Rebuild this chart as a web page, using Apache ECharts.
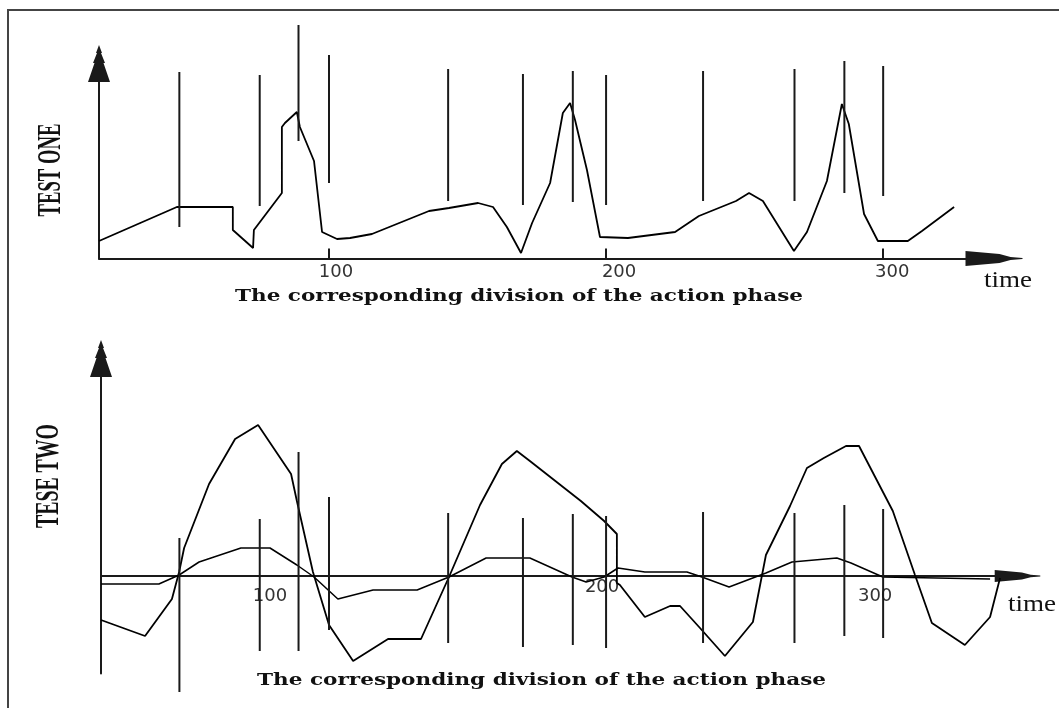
<!DOCTYPE html>
<html>
<head>
<meta charset="utf-8">
<script src="https://cdn.jsdelivr.net/npm/echarts@6/dist/echarts.min.js"></script>
<style>
html,body{margin:0;padding:0;background:#fff;}
#c{width:1059px;height:708px;}
</style>
</head>
<body>
<div id="c"></div>
<script>
// ---------- data (time units along x, arbitrary signal units along y) ----------
const tickValues = [100, 200, 300];
const tickLabels = ['100', '200', '300'];
const axisTitle = 'time';
const phaseTitle = 'The corresponding division of the action phase';
const panelOneName = 'TEST ONE';
const panelTwoName = 'TESE TWO';

// phase division boundaries (shared by both panels)
const phaseBoundaries = [46, 75, 89, 100, 143, 170, 188, 200, 235, 268, 286, 300];

// panel 1 : TEST ONE
const testOneTime = [17, 45.1, 65.3, 65.3, 72.6, 72.9, 83.0, 83.0, 84.1, 88.4, 89.5, 94.6, 97.5, 102.9, 107.6, 115.5, 136.1, 143.3, 153.8, 159.2, 164.2, 169.3, 173.3, 179.8, 184.4, 187.0, 188.8, 193.1, 197.8, 207.9, 224.9, 233.5, 246.9, 251.6, 256.6, 267.8, 272.5, 279.7, 285.1, 287.6, 293.1, 298.1, 308.9, 314.0, 325.6];
const testOneValue = [17.5, 51.5, 51.5, 28.5, 10.5, 28.5, 65.5, 131.5, 135.5, 146.5, 131.5, 97.5, 26.5, 19.5, 20.5, 24.5, 47.5, 50.5, 55.5, 51.5, 31.5, 5.5, 35.5, 75.5, 145.5, 155.5, 138.5, 88.5, 21.5, 20.5, 26.5, 42.5, 57.5, 65.5, 57.5, 7.5, 26.5, 77.5, 154.5, 134.5, 44.5, 17.5, 17.5, 27.5, 51.5];
const testOneBoundLow  = [31.5, 52.5, 117.5, 75.5, 57.5, 53.5, 56.5, 53.5, 57.5, 57.5, 65.5, 62.5];
const testOneBoundHigh = [186.5, 183.5, 233.5, 203.5, 189.5, 184.5, 187.5, 183.5, 187.5, 189.5, 197.5, 192.5];

// panel 2 : TESE TWO (large curve A, small curve B)
const testTwoATime = [17.7, 33.6, 43.3, 45.9, 47.7, 56.7, 66.1, 74.4, 86.3, 88.4, 94.2, 100.0, 108.7, 121.3, 133.2, 143.3, 154.5, 162.4, 167.8, 172.5, 190.9, 199.3, 203.9, 203.9, 205.0, 214.0, 223.1, 226.7, 233.9, 242.9, 253.0, 257.7, 266.4, 272.5, 278.6, 286.6, 291.3, 303.5, 311.5, 317.6, 329.5, 338.6, 342.2];
const testTwoAValue = [-44, -60, -23, 4, 28, 92, 137, 151, 102, 75, 4, -49, -85, -63, -63, -1, 71, 112, 125, 115, 75, 55, 42, -7, -9, -41, -30, -30, -52, -80, -46, 21, 70, 108, 118, 130, 130, 65, 1, -47, -69, -41, -2];
const testTwoBTime = [17.7, 38.6, 45.9, 53.1, 68.2, 78.7, 88.4, 94.6, 103.2, 115.9, 131.8, 143.3, 156.7, 172.5, 187.7, 192.8, 199.3, 204.3, 214.0, 229.2, 234.6, 244.4, 257.7, 267.1, 283.3, 288.4, 299.9, 338.6];
const testTwoBValue = [-8, -8, 1, 14, 28, 28, 11, -1, -23, -14, -14, -1, 18, 18, -1, -6, -1, 8, 4, 4, -1, -11, 3, 14, 18, 13, -1, -3];
const testTwoBoundLow  = [-116, -75, -75, -54, -67, -71, -69, -72, -67, -67, -60, -62];
const testTwoBoundHigh = [38, 57, 124, 79, 63, 58, 62, 60, 64, 63, 71, 67];

// ---------- helpers ----------
const zip = (xs, ys) => xs.map((x, i) => [x, ys[i]]);
const bounds = (lo, hi) => phaseBoundaries.map((t, i) => [t, lo[i], hi[i]]);

const ARROW_Y = 'path://M11 0 L14 8 L13 8 L17 18 L15.5 18 L22 37 L0 37 L6.5 18 L5 18 L9 8 L8 8 Z';
const ARROW_X = 'path://M7 0 L8 0 L9 12 L12 23 L15 57 L0 57 L3 23 L6 12 Z';

const INK = '#000';
const AXIS = '#1a1a1a';

const mctx = document.createElement('canvas').getContext('2d');
function fitScale(text, weight, size, family, target) {
  mctx.font = weight + ' ' + size + 'px ' + family;
  return target / mctx.measureText(text).width;
}
function textEl(text, x, y, weight, size, family, target, vertical) {
  const s = fitScale(text, weight, size, family, target);
  return {
    type: 'text', x: x, y: y,
    rotation: vertical ? Math.PI / 2 : 0,
    scaleX: s, scaleY: 1,
    z: 50,
    style: {
      text: text, fill: '#111',
      fontSize: size, fontWeight: weight, fontFamily: family,
      align: 'center', verticalAlign: 'middle'
    }
  };
}

function markerRender(params, api) {
  const p1 = api.coord([api.value(0), api.value(1)]);
  const p2 = api.coord([api.value(0), api.value(2)]);
  return {
    type: 'line',
    shape: { x1: p1[0], y1: p1[1], x2: p2[0], y2: p2[1] },
    style: { stroke: '#1a1a1a', lineWidth: 2 }
  };
}

const labelFont = { fontFamily: '"DejaVu Sans"', fontSize: 18, color: '#333' };
const topRich = {
  t100: Object.assign({ padding: [0, 0, 0, 14] }, labelFont),
  t200: Object.assign({ padding: [0, 0, 0, 26] }, labelFont),
  t300: Object.assign({ padding: [0, 0, 0, 18] }, labelFont)
};
const botRich = {
  b100: Object.assign({ padding: [9, 118, 0, 0] }, labelFont),
  b200: Object.assign({ padding: [0, 8, 0, 0] }, labelFont),
  b300: Object.assign({ padding: [9, 16, 0, 0] }, labelFont)
};
const labelText = (prefix) => (v) => {
  const i = tickValues.indexOf(Math.round(v));
  return i < 0 ? '' : '{' + prefix + tickValues[i] + '|' + tickLabels[i] + '}';
};

const chart = echarts.init(document.getElementById('c'), null, { renderer: 'canvas' });

const option = {
  backgroundColor: '#fff',
  animation: false,
  grid: [
    { left: 99, top: 63.5, width: 895, height: 195, containLabel: false, outerBoundsMode: 'none' },
    { left: 101, top: 358.5, width: 916.5, height: 315, containLabel: false, outerBoundsMode: 'none' }
  ],
  xAxis: [
    {
      type: 'value', gridIndex: 0, min: 17, max: 340,
      axisLine: { show: true, onZero: false, symbol: ['none', ARROW_X], symbolSize: [15, 57], lineStyle: { color: AXIS, width: 2 } },
      axisTick: { show: true, inside: true, length: 10, customValues: tickValues, lineStyle: { color: AXIS, width: 2 } },
      axisLabel: { show: true, customValues: tickValues, margin: 5, formatter: labelText('t'), rich: topRich },
      splitLine: { show: false }
    },
    {
      type: 'value', gridIndex: 1, min: 17.7, max: 348.5, offset: -97.5,
      axisLine: { show: true, onZero: false, symbol: ['none', ARROW_X], symbolSize: [12, 55], lineStyle: { color: AXIS, width: 1.8 } },
      axisTick: { show: false },
      axisLabel: { show: true, customValues: tickValues, margin: 2, formatter: labelText('b'), rich: botRich },
      splitLine: { show: false }
    }
  ],
  yAxis: [
    {
      type: 'value', gridIndex: 0, min: 0, max: 195,
      axisLine: { show: true, onZero: false, symbol: ['none', ARROW_Y], symbolSize: [22, 37], lineStyle: { color: AXIS, width: 2 } },
      axisTick: { show: false }, axisLabel: { show: false }, splitLine: { show: false }
    },
    {
      type: 'value', gridIndex: 1, min: -97.5, max: 217.5,
      axisLine: { show: true, onZero: false, symbol: ['none', ARROW_Y], symbolSize: [22, 37], lineStyle: { color: AXIS, width: 2 } },
      axisTick: { show: false }, axisLabel: { show: false }, splitLine: { show: false }
    }
  ],
  series: [
    {
      name: panelOneName, type: 'line', xAxisIndex: 0, yAxisIndex: 0,
      data: zip(testOneTime, testOneValue), symbol: 'none', clip: false,
      lineStyle: { color: INK, width: 1.8 }, z: 5
    },
    {
      name: 'phase-one', type: 'custom', xAxisIndex: 0, yAxisIndex: 0,
      data: bounds(testOneBoundLow, testOneBoundHigh), encode: { x: 0, y: [1, 2] },
      renderItem: markerRender, clip: false, z: 6
    },
    {
      name: panelTwoName + ' A', type: 'line', xAxisIndex: 1, yAxisIndex: 1,
      data: zip(testTwoATime, testTwoAValue), symbol: 'none', clip: false,
      lineStyle: { color: INK, width: 1.8 }, z: 5
    },
    {
      name: panelTwoName + ' B', type: 'line', xAxisIndex: 1, yAxisIndex: 1,
      data: zip(testTwoBTime, testTwoBValue), symbol: 'none', clip: false,
      lineStyle: { color: INK, width: 1.5 }, z: 5
    },
    {
      name: 'phase-two', type: 'custom', xAxisIndex: 1, yAxisIndex: 1,
      data: bounds(testTwoBoundLow, testTwoBoundHigh), encode: { x: 0, y: [1, 2] },
      renderItem: markerRender, clip: false, z: 6
    }
  ],
  graphic: [
    { type: 'polyline', shape: { points: [[8, 708], [8, 10], [1059, 10]] }, style: { stroke: '#444', lineWidth: 2, fill: null }, z: 40 },
    textEl(panelOneName, 51, 170, 'bold', 34, '"Liberation Serif"', 93, true),
    textEl(panelTwoName, 49, 476, 'bold', 34, '"Liberation Serif"', 104, true),
    textEl(phaseTitle, 519, 297, 'bold', 17, '"DejaVu Serif"', 568, false),
    textEl(phaseTitle, 541.5, 681, 'bold', 17, '"DejaVu Serif"', 569, false),
    textEl(axisTitle, 1008, 281, 'normal', 24, '"Liberation Serif"', 48, false),
    textEl(axisTitle, 1032, 605, 'normal', 24, '"Liberation Serif"', 48, false)
  ]
};
chart.setOption(option);
</script>
</body>
</html>
